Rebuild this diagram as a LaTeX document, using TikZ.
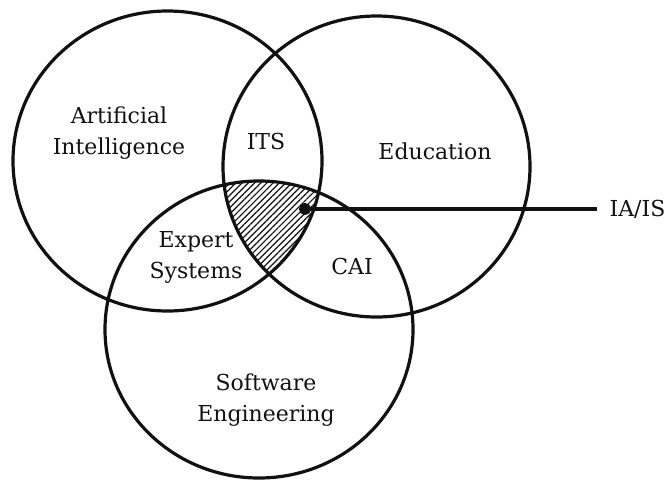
\documentclass[tikz,border=0pt]{standalone}
\usepackage{fontspec}
\setmainfont{DejaVu Serif}
\usetikzlibrary{arrows.meta,patterns.meta}
\definecolor{ink}{HTML}{111111}

\begin{document}
\begin{tikzpicture}[
  x=0.5pt, y=-0.5pt,
  ring/.style={draw=ink, line width=1.6pt},
  lbl/.style={font=\fontsize{11}{15.5}\selectfont, text=ink, align=center, inner sep=0pt},
  hatch/.style={pattern={Lines[angle=45,distance=2.2pt,line width=0.6pt]}, pattern color=ink},
  arrow/.style={{Circle[length=6pt]}-, line width=1.6pt, draw=ink},
]
\useasboundingbox (0,0) rectangle (672,481);

% shared region of the three fields
\begin{scope}
  \clip (167.5,161) ellipse [x radius=77.25pt, y radius=75pt];
  \clip (376.5,166.5) ellipse [x radius=76.75pt, y radius=75.25pt];
  \fill[hatch] (259,329.5) ellipse [x radius=77pt, y radius=74.25pt];
\end{scope}

\draw[ring] (167.5,161) ellipse [x radius=77.25pt, y radius=75pt];
\draw[ring] (376.5,166.5) ellipse [x radius=76.75pt, y radius=75.25pt];
\draw[ring] (259,329.5) ellipse [x radius=77pt, y radius=74.25pt];

\node[lbl] (ai) at (119,133) {Artificial\\Intelligence};
\node[lbl] (its) at (266,141) {ITS};
\node[lbl] (edu) at (435,151) {Education};
\node[lbl] (expert) at (196,257) {Expert\\Systems};
\node[lbl] (cai) at (352,266) {CAI};
\node[lbl] (swe) at (266,400) {Software\\Engineering};
\node[lbl, inner xsep=6pt] (iais) at (637.5,209) {IA/IS};

\coordinate (spot) at (299,209);
\draw[arrow] (spot) -- (iais.west);
\end{tikzpicture}
\end{document}
